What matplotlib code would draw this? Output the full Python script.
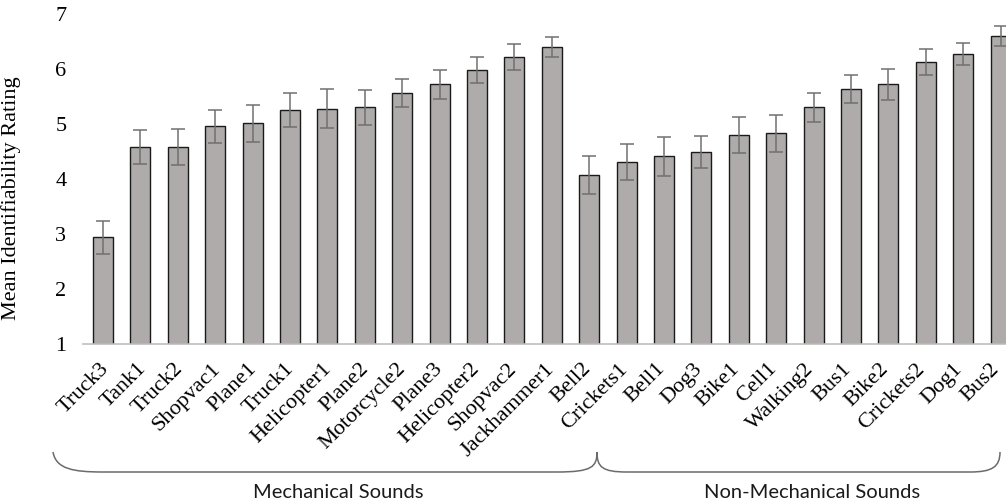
import matplotlib
matplotlib.use("Agg")
import matplotlib.pyplot as plt
from matplotlib.path import Path
from matplotlib.patches import PathPatch
from matplotlib.transforms import Affine2D, ScaledTranslation
import numpy as np

sounds = ["Truck3", "Tank1", "Truck2", "Shopvac1", "Plane1", "Truck1", "Helicopter1",
          "Plane2", "Motorcycle2", "Plane3", "Helicopter2", "Shopvac2", "Jackhammer1",
          "Bell2", "Crickets1", "Bell1", "Dog3", "Bike1", "Cell1", "Walking2", "Bus1",
          "Bike2", "Crickets2", "Dog1", "Bus2"]
means = [2.94, 4.58, 4.58, 4.96, 5.01, 5.25, 5.28, 5.30, 5.56, 5.72, 5.98, 6.22, 6.40,
         4.07, 4.31, 4.41, 4.49, 4.80, 4.83, 5.30, 5.64, 5.72, 6.13, 6.28, 6.60]
errors = [0.30, 0.31, 0.33, 0.30, 0.34, 0.31, 0.36, 0.31, 0.25, 0.27, 0.24, 0.24, 0.19,
          0.34, 0.32, 0.36, 0.29, 0.32, 0.34, 0.27, 0.26, 0.28, 0.24, 0.20, 0.18]
group_names = ["Mechanical Sounds", "Non-Mechanical Sounds"]
y_ticks = [1, 2, 3, 4, 5, 6, 7]

W, H = 1006, 503
fig = plt.figure(figsize=(W / 100, H / 100), dpi=100)
# axes in pixel terms
ax_left, ax_right, ax_bottom, ax_top = 83, 1020.6, 344, 14
ax = fig.add_axes([ax_left / W, (H - ax_bottom) / H, (ax_right - ax_left) / W,
                   (ax_bottom - ax_top) / H])

x = np.arange(len(sounds))
ax.bar(x, [m - 1 for m in means], bottom=1, width=0.53, color="#AFABAB",
       edgecolor="#1a1a1a", linewidth=1.0, zorder=2)
ax.errorbar(x, means, yerr=errors, fmt="none", ecolor="#707070", elinewidth=1.1,
            capsize=5, capthick=1.1, zorder=3)

ax.set_xlim(-0.535, len(sounds) - 0.465)
ax.set_ylim(1, 7)
ax.set_yticks(y_ticks)
ax.set_yticklabels([str(t) for t in y_ticks], family="Liberation Serif", fontsize=16)
ax.tick_params(axis="y", length=0, pad=12)
ax.tick_params(axis="x", length=0)
ax.set_xticks(x)
ax.set_xticklabels(sounds, rotation=45, ha="right", va="center", rotation_mode="anchor",
                   family="Liberation Serif", fontsize=16)
ax.tick_params(axis="x", pad=16)
labels = ax.get_xticklabels()
n = len(labels)
for i, lab in enumerate(labels):
    dx = 3 - 7 * i / (n - 1)
    lab.set_transform(lab.get_transform() + ScaledTranslation(dx / 100, 0, fig.dpi_scale_trans))
for s in ["top", "right", "left"]:
    ax.spines[s].set_visible(False)
ax.spines["bottom"].set_color("#bfbfbf")
ax.spines["bottom"].set_linewidth(1.2)

ax.set_ylabel("Mean Identifiability Rating", family="Liberation Serif", fontsize=16)
ax.yaxis.set_label_coords(-0.066, 0.442)

# braces (figure pixel coordinates, y downward)
pix = Affine2D().scale(1 / W, -1 / H).translate(0, 1) + fig.transFigure
top_y, low_y = 452, 472
def brace_path(x0, xm, x1):
    verts = [(x0, top_y), (x0 + 3, low_y - 3), (x0 + 20, low_y), (x0 + 50, low_y),
             (xm - 40, low_y),
             (xm - 5, low_y), (xm, low_y - 5), (xm, top_y),
             (xm, low_y - 5), (xm + 5, low_y), (xm + 30, low_y),
             (x1 - 30, low_y),
             (x1 - 8, low_y), (x1, low_y - 5), (x1, top_y)]
    codes = [Path.MOVETO, Path.CURVE4, Path.CURVE4, Path.CURVE4,
             Path.LINETO,
             Path.CURVE4, Path.CURVE4, Path.CURVE4,
             Path.CURVE4, Path.CURVE4, Path.CURVE4,
             Path.LINETO,
             Path.CURVE4, Path.CURVE4, Path.CURVE4]
    return Path(verts, codes)

fig.patches.append(PathPatch(brace_path(53, 597, 1000), transform=pix, fill=False,
                             edgecolor="#6b6b6b", linewidth=1.1))

fig.text(338 / W, 1 - 492 / H, group_names[0], ha="center", va="center",
         family="Lato", fontsize=14.5, color="#1a1a1a")
fig.text(812 / W, 1 - 492 / H, group_names[1], ha="center", va="center",
         family="Lato", fontsize=14.5, color="#1a1a1a")

fig.savefig("out.png", dpi=100)
